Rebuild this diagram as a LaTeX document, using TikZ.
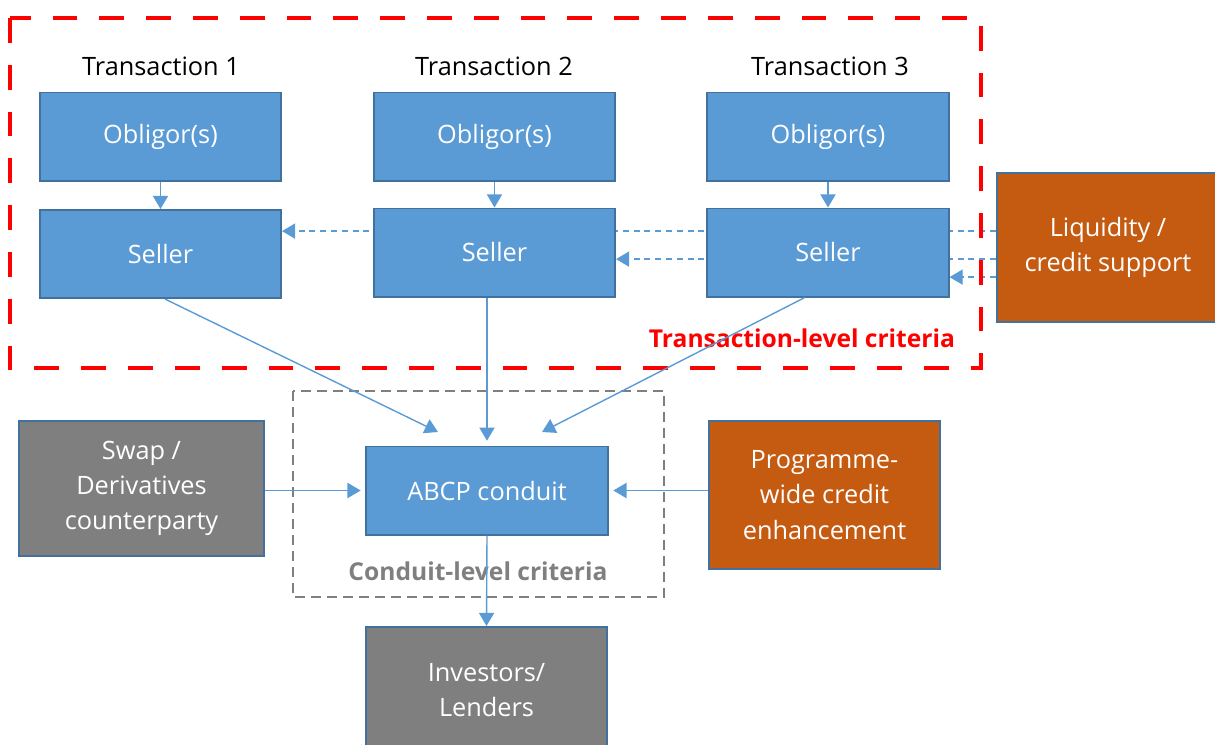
\documentclass[tikz,border=0pt]{standalone}
\usepackage{fontspec}
\setmainfont{Open Sans}
\usetikzlibrary{arrows.meta, backgrounds}

\definecolor{boxblue}{HTML}{5B9BD5}
\definecolor{boxedge}{HTML}{41719C}
\definecolor{boxorange}{HTML}{C55A11}
\definecolor{boxgray}{HTML}{7F7F7F}

\begin{document}
\begin{tikzpicture} [x=0.025cm, y=-0.025cm,
font=\fontsize{18}{25}\selectfont,
box/.style={draw=boxedge, line width=1.4pt, fill=boxblue, text=white,
  align=center, inner sep=0pt, minimum width=6.025cm, minimum height=2.2cm},
orangebox/.style={box, fill=boxorange},
graybox/.style={box, fill=boxgray},
link/.style={draw=boxblue, line width=1pt, -{Triangle[width=0.38cm, length=0.33cm]}},
dashlink/.style={link, dash pattern=on 0.15cm off 0.12cm},
critline/.style={draw=red, line width=3.5pt, dash pattern=on 0.62cm off 0.55cm},
conduitline/.style={draw=boxgray, line width=1.4pt, dash pattern=on 0.25cm off 0.15cm}]
%    fixed frame of the picture
\useasboundingbox (0,0) rectangle (1215,744);

% transaction level
\node (tr1) at (161,66) {Transaction 1};
\node (tr2) at (494,66) {Transaction 2};
\node (tr3) at (830,66) {Transaction 3};

\node[box] (obl1) at (160.5,136.5) {Obligor(s)};
\node[box] (obl2) at (494.5,136.5) {Obligor(s)};
\node[box] (obl3) at (828,136.5) {Obligor(s)};

\node[box] (sel1) at (160.5,254) {Seller};
\node[box] (sel2) at (494.5,252.5) {Seller};
\node[box] (sel3) at (828,252.5) {Seller};

\node[orangebox, minimum width=5.55cm, minimum height=3.72cm] (liq) at (1108,247.5)
  {Liquidity /\\credit support};

% conduit level
\node[box] (abcp) at (487,490.5) {ABCP conduit};
\node[graybox, minimum width=6.125cm, minimum height=3.375cm] (swap) at (141.5,488.5)
  {Swap /\\Derivatives\\counterparty};
\node[orangebox, minimum width=5.775cm, minimum height=3.7cm] (prog) at (824.5,495)
  {Programme-\\wide credit\\enhancement};
\node[graybox, minimum height=3.15cm] (inv) at (486.5,690) {Investors/\\Lenders};

% criteria frames
\draw[critline] (10,18) rectangle (981,368);
\node[text=red, font=\fontsize{17.5}{20}\selectfont\bfseries] (tlc) at (802,338) {Transaction-level criteria};
\draw[conduitline] (293,391) rectangle (664,597);
\node[text=boxgray, font=\fontsize{17.5}{20}\selectfont\bfseries] (clc) at (478,571) {Conduit-level criteria};

% support lines run behind the sellers
\coordinate (la) at ([yshift=0.41cm]liq.west);
\coordinate (lb) at ([yshift=-0.29cm]liq.west);
\coordinate (lc) at ([yshift=-0.74cm]liq.west);
\begin{pgfonlayer}{background}
\draw[dashlink] (la) -- (la -| sel1.east);
\draw[dashlink] (lb) -- (lb -| sel2.east);
\draw[dashlink] (lc) -- (lc -| sel3.east);
\end{pgfonlayer}

\foreach \i in {1,2,3}
  \draw[link] (obl\i.south) -- (sel\i.north);

\coordinate (in1) at (438,432);
\coordinate (in2) at ([yshift=0.12cm]abcp.north);
\coordinate (in3) at (542,432);
\draw[link] ([xshift=0.11cm]sel1.south) -- (in1);
\draw[link] (sel2.south -| abcp.north) -- (in2);
\draw[link] ([xshift=-0.58cm]sel3.south) -- (in3);

\draw[link, shorten >=0.12cm] (swap.east |- abcp.west) -- (abcp.west);
\draw[link, shorten >=0.12cm] (prog.west |- abcp.east) -- (abcp.east);
\draw[link] (abcp.south) -- (inv.north);

\end{tikzpicture}
\end{document}
